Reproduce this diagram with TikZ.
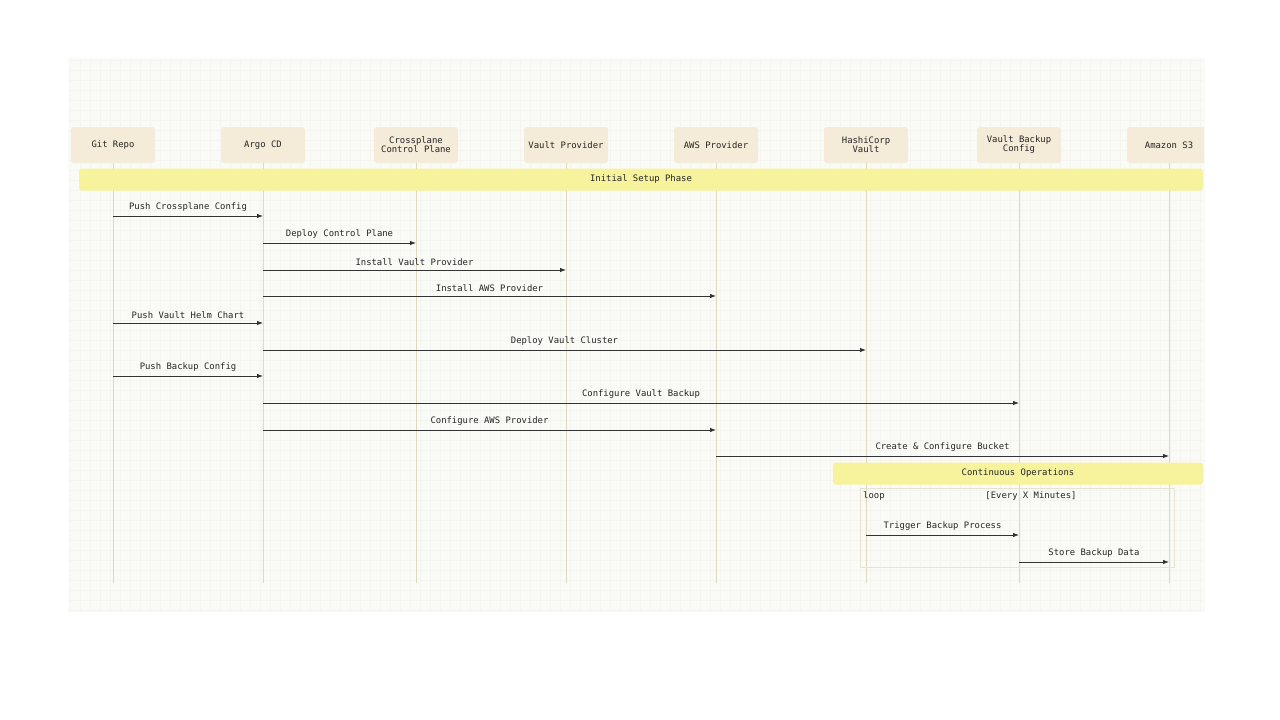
\documentclass[tikz,border=0pt]{standalone}
\usepackage{fontspec}
\setmonofont{DejaVu Sans Mono}
\usetikzlibrary{arrows.meta}
\definecolor{panel}{HTML}{FAFAF7}
\definecolor{gridc}{HTML}{F4F4F0}
\definecolor{actorfill}{HTML}{F4EBD8}
\definecolor{lifeline}{HTML}{DEDABC}
\definecolor{bandfill}{HTML}{F7F39C}
\definecolor{loopline}{HTML}{E6E3D2}
\definecolor{msgline}{HTML}{333333}
\definecolor{labeltext}{HTML}{262626}
\tikzset{
  seqfont/.style={font=\ttfamily\fontsize{8.9}{9}\selectfont, text=labeltext},
  actor/.style={seqfont, fill=actorfill, rounded corners=3pt, minimum width=84pt,
    minimum height=36pt, align=center, inner sep=2pt},
  life/.style={draw=lifeline, line width=0.8pt},
  band/.style={seqfont, fill=bandfill, rounded corners=3pt, minimum height=22pt, inner sep=0pt},
  msg/.style={draw=msgline, line width=0.8pt, -{Latex[length=6pt,width=4.5pt]}},
  loopbox/.style={draw=loopline, line width=0.8pt}
}
\begin{document}
\begin{tikzpicture}[x=1pt,y=-1pt]
\useasboundingbox (0,0) rectangle (1280,720);
\fill[white] (0,0) rectangle (1280,720);
\fill[panel] (68,58) rectangle (1205,612);
\begin{scope}
\clip (68,58) rectangle (1204,612);
\draw[gridc, line width=0.25pt, step=10pt] (68,58) grid (1205,612);
% participants
\node[actor] (git) at (113,145) {Git Repo};
\node[actor] (argo) at (263,145) {Argo CD};
\node[actor] (xp) at (416,145) {Crossplane\\Control Plane};
\node[actor] (vprov) at (566,145) {Vault Provider};
\node[actor] (aws) at (716,145) {AWS Provider};
\node[actor] (vault) at (866,145) {HashiCorp\\Vault};
\node[actor] (vbak) at (1019,145) {Vault Backup\\Config};
\node[actor] (s3) at (1169,145) {Amazon S3};
\foreach \p in {git,argo,xp,vprov,aws,vault,vbak,s3}
  \draw[life] (\p.south) -- (\p.south |- 0,583);
% phases
\node[band, minimum width=1124pt] (setup) at (641,179.5) {Initial Setup Phase};
\node[band, minimum width=370pt] (contops) at (1018,473.5) {Continuous Operations};
\draw[loopbox] (860,488) rectangle (1174,567);
\node[seqfont, anchor=west, inner sep=0pt] (looplbl) at (863,496.5) {loop};
\node[seqfont, inner sep=0pt] (loopcond) at (1031,496.5) {[Every X Minutes]};
% messages
\foreach \a/\b/\y/\t in {
    git/argo/216/Push Crossplane Config,
    argo/xp/243/Deploy Control Plane,
    argo/vprov/270/Install Vault Provider,
    argo/aws/296/Install AWS Provider,
    git/argo/323/Push Vault Helm Chart,
    argo/vault/350/Deploy Vault Cluster,
    git/argo/376/Push Backup Config,
    argo/vbak/403/Configure Vault Backup,
    argo/aws/430/Configure AWS Provider,
    aws/s3/456/Create \& Configure Bucket,
    vault/vbak/535/Trigger Backup Process,
    vbak/s3/562/Store Backup Data}
  \draw[msg] (\a.south |- 0,\y) -- (\b.south |- 0,\y)
    node[seqfont, midway, above=0.8pt] {\t};
\end{scope}
\end{tikzpicture}
\end{document}
